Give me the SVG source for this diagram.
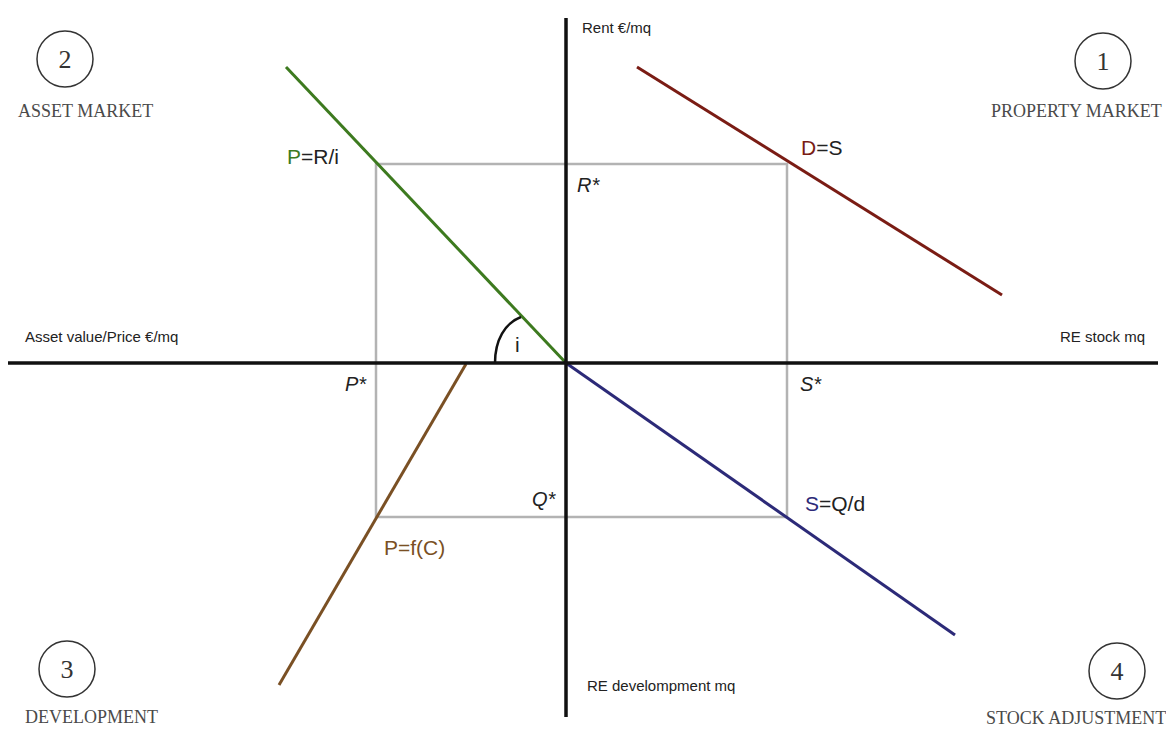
<svg xmlns="http://www.w3.org/2000/svg" width="1166" height="729" viewBox="0 0 1166 729">
<style>
.cap{font-family:"Liberation Serif",serif;font-size:18px;fill:#4a4a4a}
.num{font-family:"Liberation Serif",serif;font-size:26px;fill:#333;text-anchor:middle}
.ax{font-family:"Liberation Sans",sans-serif;font-size:15px;fill:#222}
.lab{font-family:"Liberation Sans",sans-serif;font-size:21px;fill:#222}
.it{font-family:"Liberation Sans",sans-serif;font-size:20px;font-style:italic;fill:#222}
.circ{fill:none;stroke:#333;stroke-width:1.5}
</style>
<rect width="1166" height="729" fill="#fff"/>
<g id="box">
<rect x="376" y="164" width="411" height="353" fill="none" stroke="#b3b3b3" stroke-width="2.5"/>
</g>
<g id="connectors">
<line x1="286" y1="67" x2="566" y2="363" stroke="#3d7a1f" stroke-width="3"/>
<line x1="637" y1="67" x2="1002" y2="295" stroke="#7a1c14" stroke-width="3"/>
<line x1="566" y1="363" x2="955" y2="635" stroke="#2c2a78" stroke-width="3"/>
<line x1="466" y1="364" x2="279" y2="685" stroke="#7a5024" stroke-width="3"/>
<path d="M495,363 C495,340 505,323 521,317" fill="none" stroke="#111" stroke-width="2.5"/>
</g>
<g id="axes">
<line x1="8" y1="363" x2="1158" y2="363" stroke="#111" stroke-width="3.5"/>
<line x1="566" y1="18" x2="566" y2="717" stroke="#111" stroke-width="3.5"/>
</g>
<g id="q2"><circle class="circ" cx="65" cy="59" r="28"/><text class="num" x="65" y="68">2</text><text class="cap" x="18" y="117">ASSET MARKET</text></g>
<g id="q1"><circle class="circ" cx="1103" cy="61" r="28"/><text class="num" x="1103" y="70">1</text><text class="cap" x="991" y="117">PROPERTY MARKET</text></g>
<g id="q3"><circle class="circ" cx="67" cy="669" r="28"/><text class="num" x="67" y="678">3</text><text class="cap" x="25" y="723">DEVELOPMENT</text></g>
<g id="q4"><circle class="circ" cx="1117" cy="671" r="28"/><text class="num" x="1117" y="680">4</text><text class="cap" x="986" y="724">STOCK ADJUSTMENT</text></g>
<g id="axislabels">
<text class="ax" x="582" y="33">Rent €/mq</text>
<text class="ax" x="25" y="342">Asset value/Price €/mq</text>
<text class="ax" x="1060" y="342">RE stock mq</text>
<text class="ax" x="587" y="691">RE develompment mq</text>
</g>
<g id="labels">
<text class="lab" x="287" y="164"><tspan style="fill:#3d7a1f">P</tspan>=R/i</text>
<text class="it" x="577" y="192">R*</text>
<text class="lab" x="801" y="155"><tspan style="fill:#7a1c14">D</tspan>=S</text>
<text class="it" x="345" y="391">P*</text>
<text class="it" x="800" y="391">S*</text>
<text class="it" x="532" y="506">Q*</text>
<text class="lab" x="805" y="511"><tspan style="fill:#2c2a78">S</tspan>=Q/d</text>
<text class="lab" x="384" y="555" style="fill:#7a5024">P=f(C)</text>
<text class="lab" x="515" y="352" style="fill:#222">i</text>
</g>
</svg>
